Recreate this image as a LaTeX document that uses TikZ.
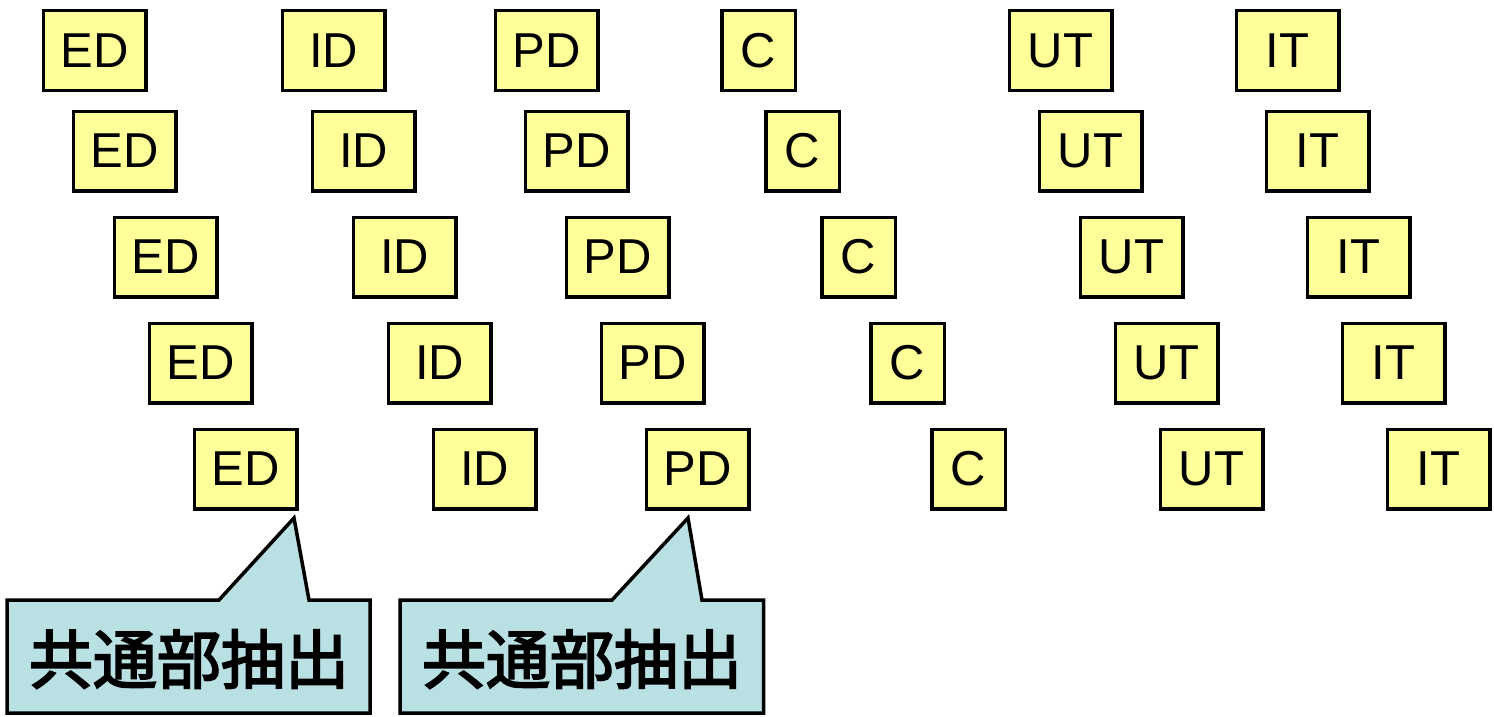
\documentclass[tikz,border=0pt]{standalone}
\usepackage{fontspec}
\setmainfont{Liberation Sans}
\newfontfamily\cjk{Noto Sans CJK JP}[FakeBold=3]
\definecolor{boxyellow}{HTML}{FFFF99}
\definecolor{callblue}{HTML}{B9E0E3}
\begin{document}
\begin{tikzpicture}[x=1pt,y=-1pt,
  wbox/.style={draw=black, fill=boxyellow, line width=3.5pt, minimum width=102.5pt, minimum height=79.5pt, inner sep=0pt, font=\fontsize{49}{49}\selectfont},
  cbox/.style={wbox, minimum width=73.5pt},
  callout/.style={draw=black, fill=callblue, line width=3.5pt, line join=miter},
  calltext/.style={font=\cjk\fontsize{64}{64}\selectfont, inner sep=0pt}]
\useasboundingbox (0,0) rectangle (1494,717);
\foreach \i/\dx/\dc/\y in {1/0/0/50.5, 2/30/44/151, 3/71/100/257, 4/106/149/363, 5/151/210/469}{
  \node[wbox] (ED\i) at (94.5+\dx,\y) {ED};
  \node[wbox] (ID\i) at (333.5+\dx,\y) {ID};
  \node[wbox] (PD\i) at (546.5+\dx,\y) {PD};
  \node[cbox] (C\i) at (758.5+\dc,\y) {C};
  \node[wbox] (UT\i) at (1060.5+\dx,\y) {UT};
  \node[wbox] (IT\i) at (1287.5+\dx,\y) {IT};
}
% callouts
\draw[callout] (7,600) -- (219,600) -- (294,518) -- (309,600) -- (370,600) -- (370,713) -- (7,713) -- cycle;
\node[calltext] (t1) at (189,659) {共通部抽出};
\draw[callout] (400,600) -- (612,600) -- (688,518) -- (702,600) -- (763.5,600) -- (763.5,713) -- (400,713) -- cycle;
\node[calltext] (t2) at (582,659) {共通部抽出};
\end{tikzpicture}
\end{document}
